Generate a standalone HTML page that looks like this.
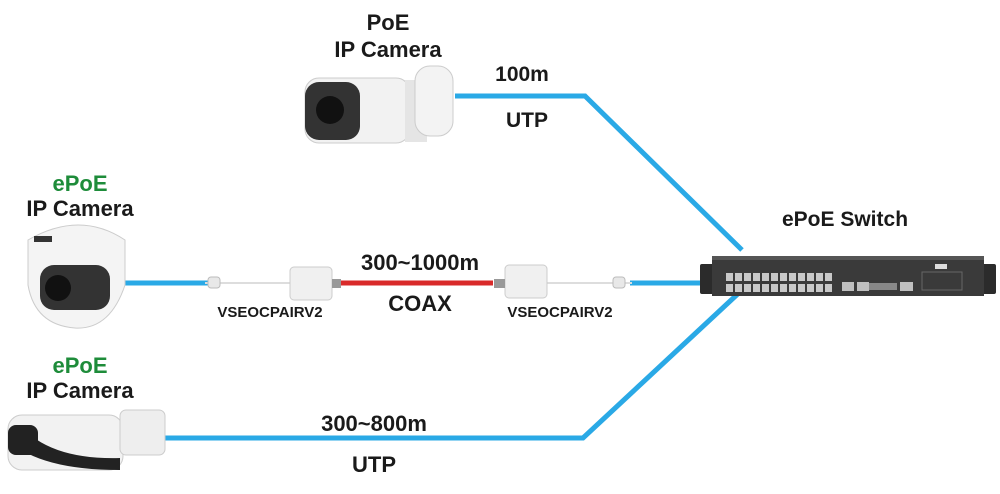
<!DOCTYPE html>
<html><head><meta charset="utf-8"><style>
body{margin:0;background:#fff;}
svg{display:block;font-family:"Liberation Sans",sans-serif;font-weight:bold;}
</style></head><body>
<svg width="1000" height="494" viewBox="0 0 1000 494">
<defs>
<pattern id="ports" x="725" y="272" width="9" height="11" patternUnits="userSpaceOnUse">
<rect x="1" y="1" width="7" height="8" fill="#c8c8c8"/>
</pattern>
</defs>
<!-- cables -->
<polyline points="455,96 585,96 742,250" fill="none" stroke="#2aa9e6" stroke-width="5"/>
<polyline points="160,438 583,438 742,290" fill="none" stroke="#2aa9e6" stroke-width="5"/>
<line x1="120" y1="283" x2="210" y2="283" stroke="#2aa9e6" stroke-width="5"/>
<line x1="630" y1="283" x2="705" y2="283" stroke="#2aa9e6" stroke-width="5"/>
<line x1="205" y1="283" x2="292" y2="283" stroke="#ddd" stroke-width="2"/>
<line x1="545" y1="283" x2="632" y2="283" stroke="#ddd" stroke-width="2"/>
<rect x="208" y="277" width="12" height="11" rx="3" fill="#e8e8e8" stroke="#bbb"/>
<rect x="613" y="277" width="12" height="11" rx="3" fill="#e8e8e8" stroke="#bbb"/>
<line x1="340" y1="283" x2="493" y2="283" stroke="#d92a2a" stroke-width="5"/>
<rect x="290" y="267" width="42" height="33" rx="4" fill="#f0f0f0" stroke="#ccc"/>
<rect x="332" y="279" width="9" height="9" fill="#999"/>
<rect x="505" y="265" width="42" height="33" rx="4" fill="#f0f0f0" stroke="#ccc"/>
<rect x="494" y="279" width="11" height="9" fill="#999"/>
<!-- switch -->
<rect x="700" y="264" width="296" height="30" rx="2" fill="#2b2b2b"/>
<rect x="712" y="256" width="272" height="40" fill="#3a3a3a"/>
<rect x="712" y="256" width="272" height="4" fill="#555"/>
<rect x="725" y="272" width="108" height="22" fill="url(#ports)"/>
<g fill="#bfbfbf">
<rect x="842" y="282" width="12" height="9"/><rect x="857" y="282" width="12" height="9"/>
<rect x="869" y="283" width="28" height="7" fill="#888"/><rect x="900" y="282" width="13" height="9"/>
</g>
<rect x="935" y="264" width="12" height="5" fill="#ddd"/>
<rect x="922" y="272" width="40" height="18" fill="none" stroke="#666" stroke-width="1"/>
<!-- top camera -->
<rect x="305" y="78" width="105" height="65" rx="14" fill="#f2f2f2" stroke="#ccc"/>
<rect x="305" y="82" width="55" height="58" rx="14" fill="#333"/>
<circle cx="330" cy="110" r="14" fill="#111"/>
<rect x="405" y="80" width="22" height="62" fill="#e5e5e5"/>
<rect x="415" y="66" width="38" height="70" rx="15" fill="#f3f3f3" stroke="#ccc"/>
<!-- dome camera -->
<path d="M28,240 Q80,210 125,240 L125,285 Q110,330 75,328 Q35,325 28,285Z" fill="#f4f4f4" stroke="#ccc"/>
<rect x="40" y="265" width="70" height="45" rx="14" fill="#333"/>
<circle cx="58" cy="288" r="13" fill="#111"/>
<rect x="34" y="236" width="18" height="6" fill="#333"/>
<!-- bottom camera -->
<rect x="8" y="415" width="115" height="55" rx="14" fill="#f2f2f2" stroke="#ccc"/>
<path d="M8,440 Q40,470 120,470 L120,458 Q50,460 20,425 Z" fill="#222"/>
<rect x="8" y="425" width="30" height="30" rx="8" fill="#222"/>
<rect x="120" y="410" width="45" height="45" rx="6" fill="#eee" stroke="#ccc"/>
<!-- text -->
<g font-size="22" text-anchor="middle" fill="#1a1a1a">
<text x="388" y="30">PoE</text>
<text x="388" y="57">IP Camera</text>
<text x="80" y="191" fill="#1e8c3a">ePoE</text>
<text x="80" y="216">IP Camera</text>
<text x="80" y="373" fill="#1e8c3a">ePoE</text>
<text x="80" y="398">IP Camera</text>
<text x="845" y="226" font-size="21">ePoE Switch</text>
<text x="522" y="81" font-size="21">100m</text>
<text x="527" y="127" font-size="21">UTP</text>
<text x="420" y="270">300~1000m</text>
<text x="420" y="311">COAX</text>
<text x="374" y="431">300~800m</text>
<text x="374" y="472">UTP</text>
<text x="270" y="317" font-size="15">VSEOCPAIRV2</text>
<text x="560" y="317" font-size="15">VSEOCPAIRV2</text>
</g>
</svg>
</body></html>
